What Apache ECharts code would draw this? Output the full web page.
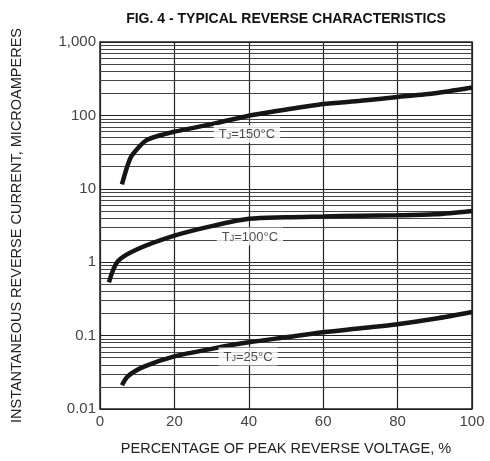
<!DOCTYPE html>
<html lang="en">
<head>
    <meta charset="UTF-8">
    <title>Typical Reverse Characteristics</title>
    <script src="https://cdn.jsdelivr.net/npm/echarts@6/dist/echarts.min.js"></script>
    <style>
        html, body { margin: 0; padding: 0; background: #fff; }
        #chart { width: 490px; height: 461px; }
    </style>
</head>
<body>
<div id="chart"></div>
<script type="text/javascript">
    // curve data (x = % of peak reverse voltage, y = microamperes)
    var x150 = [5.9, 8.3, 12.5, 20, 30, 40, 50, 60, 70, 80, 90, 100];
    var y150 = [11.5, 27, 46, 60, 76, 99, 120, 143, 158, 178, 200, 240];

    var x100 = [2.4, 4.8, 10, 20, 30, 40, 50, 60, 70, 80, 90, 100];
    var y100 = [0.53, 1.03, 1.5, 2.3, 3.1, 3.9, 4.1, 4.2, 4.3, 4.35, 4.5, 5.0];

    var x25 = [5.9, 7.5, 12, 20, 30, 40, 50, 60, 70, 80, 90, 100];
    var y25 = [0.021, 0.028, 0.038, 0.052, 0.066, 0.081, 0.095, 0.111, 0.126, 0.143, 0.17, 0.21];

    var curveNames = ['150', '100', '25'];
    // where the T_J labels sit, in data units
    var labelX = [39.5, 40.3, 39.8];
    var labelY = [56, 2.24, 0.052];

    var decades = [0.01, 0.1, 1, 10, 100];
    var minorSteps = [2, 3, 4, 5, 6, 7, 8, 9];

    function pairs(xs, ys) {
        var out = [];
        for (var i = 0; i < xs.length; i++) out.push([xs[i], ys[i]]);
        return out;
    }

    // minor log grid lines 2..9 in each decade
    var minorLines = [];
    decades.forEach(function (d) {
        minorSteps.forEach(function (m) {
            minorLines.push({yAxis: +(d * m).toPrecision(3)});
        });
    });

    function yLabel(v) {
        if (v >= 1000) return '1,000';
        return String(+v.toPrecision(3));
    }

    var lineStyle = {color: '#151515', width: 4.5};
    var labelData = [];
    for (var i = 0; i < curveNames.length; i++) {
        labelData.push({value: [labelX[i], labelY[i]], name: curveNames[i]});
    }

    var option = {
        animation: false,
        title: {
            text: 'FIG. 4 - TYPICAL REVERSE CHARACTERISTICS',
            left: 281,
            top: 7,
            textAlign: 'center',
            textStyle: {fontFamily: 'Liberation Sans', fontSize: 14, fontWeight: 'bold', color: '#111'}
        },
        grid: {
            left: 100, right: 18, top: 42, bottom: 51,
            show: true, borderColor: '#222', borderWidth: 1.5
        },
        xAxis: {
            type: 'value', min: 0, max: 100, interval: 20,
            name: 'PERCENTAGE OF PEAK REVERSE VOLTAGE, %',
            nameLocation: 'middle', nameGap: 32,
            nameTextStyle: {fontFamily: 'Liberation Sans', fontSize: 14.5, color: '#222'},
            axisLine: {show: false},
            axisTick: {show: false},
            axisLabel: {fontFamily: 'Liberation Sans', fontSize: 15, color: '#444', margin: 5},
            splitLine: {show: true, lineStyle: {color: '#222', width: 1.2}}
        },
        yAxis: {
            type: 'log', logBase: 10, min: 0.01, max: 1000,
            name: 'INSTANTANEOUS REVERSE CURRENT, MICROAMPERES',
            nameLocation: 'middle', nameGap: 76, nameRotate: 90,
            nameTextStyle: {fontFamily: 'Liberation Sans', fontSize: 14.5, color: '#222'},
            axisLine: {show: false},
            axisTick: {show: false},
            axisLabel: {fontFamily: 'Liberation Sans', fontSize: 15, color: '#444', margin: 4, formatter: yLabel},
            splitLine: {show: true, lineStyle: {color: '#222', width: 1.2}}
        },
        series: [
            {
                name: '150', type: 'line', data: pairs(x150, y150), smooth: 0.2,
                showSymbol: false, lineStyle: lineStyle, z: 5,
                markLine: {
                    silent: true, symbol: ['none', 'none'], label: {show: false},
                    lineStyle: {color: '#444', width: 1, type: 'solid'},
                    data: minorLines, z: 1
                }
            },
            {name: '100', type: 'line', data: pairs(x100, y100), smooth: 0.3, showSymbol: false, lineStyle: lineStyle, z: 5},
            {name: '25', type: 'line', data: pairs(x25, y25), smooth: 0.3, showSymbol: false, lineStyle: lineStyle, z: 5},
            {
                type: 'scatter', data: labelData, symbolSize: 0, z: 10,
                label: {
                    show: true, position: 'inside',
                    formatter: function (p) { return '{t|T}{s|J}{t|=' + p.name + '°C}'; },
                    backgroundColor: '#fff', padding: [3, 5, 2, 5],
                    rich: {
                        t: {fontFamily: 'Liberation Sans', fontSize: 13, color: '#222'},
                        s: {fontFamily: 'Liberation Sans', fontSize: 9, color: '#222', verticalAlign: 'bottom', padding: [4, 0, 0, 0]}
                    }
                }
            }
        ]
    };

    var chart = echarts.init(document.getElementById('chart'));
    chart.setOption(option);
</script>
</body>
</html>
